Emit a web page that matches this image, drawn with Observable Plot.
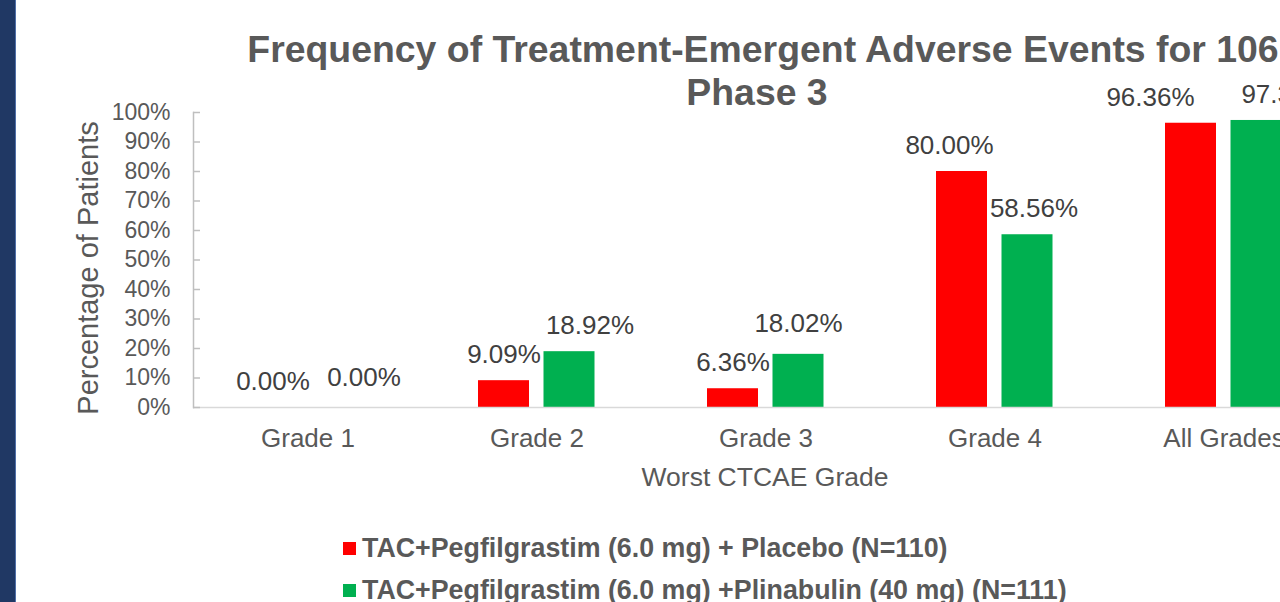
<!DOCTYPE html>
<html>
<head>
<meta charset="utf-8">
<script src="https://cdn.jsdelivr.net/npm/d3@7"></script>
<script src="https://cdn.jsdelivr.net/npm/@observablehq/plot@0.6"></script>
<style>
  html, body { margin: 0; padding: 0; background: #fff; width: 1280px; height: 602px; overflow: hidden; }
  body { position: relative; font-family: "Liberation Sans", Arial, sans-serif; color: #595959; }
  #sidebar { position: absolute; left: 0; top: 0; width: 15px; height: 602px; background: #203864; border-right: 1px solid #4F6FA8; z-index: 2; }
  #chart { position: absolute; left: 0; top: 0; width: 1340px; height: 500px; }
  #chart svg { max-width: none !important; }
  #title { position: absolute; left: 0; top: 28px; width: 1526px; text-align: center; font-weight: bold; font-size: 37.4px; line-height: 43px; color: #595959; white-space: nowrap; }
  #title .l2 { position: relative; left: -6px; }
  #ytitle { position: absolute; left: 88px; top: 268px; transform: translate(-50%, -50%) rotate(-90deg); font-size: 29px; white-space: nowrap; color: #595959; }
  #xtitle { position: absolute; left: 765px; top: 477px; transform: translate(-50%, -50%); font-size: 26.5px; white-space: nowrap; color: #595959; }
  #legend { position: absolute; left: 343px; top: 527px; }
  .item { display: flex; align-items: center; height: 42px; font-weight: bold; font-size: 26.8px; white-space: nowrap; color: #595959; }
  .swatch { width: 13px; height: 13px; margin-right: 6px; flex: none; }
</style>
</head>
<body>
<div id="sidebar"></div>
<div id="chart"></div>
<div id="title">Frequency of Treatment-Emergent Adverse Events for 106<br><span class="l2">Phase 3</span></div>
<div id="ytitle">Percentage of Patients</div>
<div id="xtitle">Worst CTCAE Grade</div>
<div id="legend"></div>
<script>
// ---- data ----
const grades = ["Grade 1", "Grade 2", "Grade 3", "Grade 4", "All Grades"];
const seriesNames = [
  "TAC+Pegfilgrastim (6.0 mg) + Placebo (N=110)",
  "TAC+Pegfilgrastim (6.0 mg) +Plinabulin (40 mg) (N=111)"
];
const placeboValues = [0.00, 9.09, 6.36, 80.00, 96.36];
const plinabulinValues = [0.00, 18.92, 18.02, 58.56, 97.30];
const yTickValues = [0, 10, 20, 30, 40, 50, 60, 70, 80, 90, 100];
const seriesColors = ["#FF0000", "#00B050"];

// ---- build table ----
const rows = [];
grades.forEach((g, i) => {
  rows.push({grade: g, series: seriesNames[0], s: 0, value: placeboValues[i]});
  rows.push({grade: g, series: seriesNames[1], s: 1, value: plinabulinValues[i]});
});

// label placement tweaks (layout only)
const barOffset = [-33, 32.5];
const labelNudge = {
  "Grade 1|0": [-2, 0], "Grade 1|1": [23.5, -4],
  "Grade 2|1": [20.5, 0], "Grade 3|1": [0, -5],
  "Grade 4|0": [-12.5, 0], "Grade 4|1": [6.5, 0],
  "All Grades|0": [-40.5, 0], "All Grades|1": [29, 0]
};

const labelMarks = rows.map(r => {
  const n = labelNudge[r.grade + "|" + r.s] || [0, 0];
  return Plot.text([r], {
    x: "grade", y: "value",
    text: d => d.value.toFixed(2) + "%",
    dx: barOffset[r.s] + n[0], dy: -26 + n[1],
    fill: "#404040", fontSize: 26
  });
});

const chart = Plot.plot({
  width: 1340, height: 500,
  marginLeft: 193, marginRight: 2, marginTop: 112, marginBottom: 93,
  style: {fontFamily: "Liberation Sans, Arial, sans-serif", background: "transparent", overflow: "visible", maxWidth: "none"},
  x: {domain: grades, padding: 0, label: null},
  y: {domain: [0, 100], label: null},
  color: {domain: seriesNames, range: seriesColors},
  marks: [
    Plot.barY(rows.filter(r => r.s === 0), {x: "grade", y: "value", fill: "series", insetLeft: 56, insetRight: 122}),
    Plot.barY(rows.filter(r => r.s === 1), {x: "grade", y: "value", fill: "series", insetLeft: 121.5, insetRight: 56.5}),
    Plot.ruleY([0], {stroke: "#D9D9D9", strokeWidth: 1.5}),
    Plot.frame({anchor: "left", stroke: "#BFBFBF", strokeWidth: 1.5}),
    Plot.axisY({ticks: yTickValues, tickFormat: d => d + "%", tickSize: -7, tickPadding: 30, stroke: "#BFBFBF", strokeWidth: 1.5, fill: "#595959", fontSize: 23, label: null}),
    Plot.axisX({tickSize: 0, tickPadding: 21, fill: "#595959", fontSize: 26, label: null}),
    ...labelMarks
  ]
});
document.getElementById("chart").appendChild(chart);

// ---- legend ----
const legend = document.getElementById("legend");
seriesNames.forEach((name, i) => {
  const item = document.createElement("div");
  item.className = "item";
  const sw = document.createElement("span");
  sw.className = "swatch";
  sw.style.background = seriesColors[i];
  const t = document.createElement("span");
  t.textContent = name;
  item.appendChild(sw);
  item.appendChild(t);
  legend.appendChild(item);
});
</script>
</body>
</html>
